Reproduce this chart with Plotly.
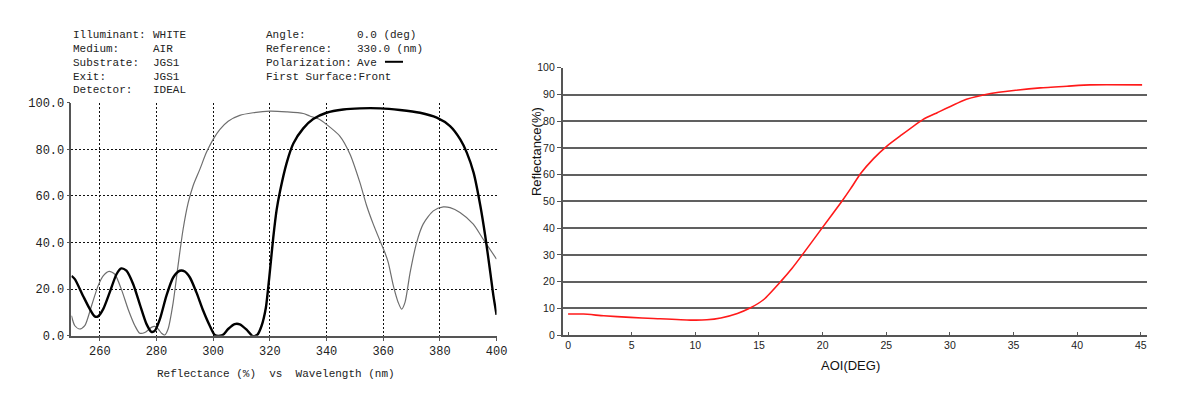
import plotly.graph_objects as go

W, H = 1182, 398
# empirical correction between figure pixels and the photographed page
SX, OX = 0.99, 8.3
SY, OY = 0.966, 12.85

# ---------------- left chart data (Reflectance vs Wavelength) ----------------
wl_thin = [250, 251.2, 252.9, 254.7, 257.1, 259.4, 261.2, 263.3, 265.3, 267.6, 270.0, 272.4,
           274.1, 275.9, 278.2, 279.4, 280.6, 281.8, 282.9, 284.1, 285.9, 287.6, 289.4, 291.2,
           292.9, 295.3, 297.6, 300.0, 302.4, 305.3, 309.4, 314.1, 320.0, 325.9, 331.8, 334.1,
           337.6, 340.0, 344.7, 348.3, 351.8, 354.2, 356.5, 358.9, 360.6, 361.8, 363.6, 365.3,
           366.5, 367.7, 369.5, 371.8, 374.1, 377.7, 381.2, 383.6, 387.1, 391.8, 395.3, 400.0]
r_thin = [8.6, 4.3, 2.9, 4.3, 12.9, 21.4, 25.7, 27.6, 26.4, 20.0, 11.4, 4.3,
          1.1, 1.4, 3.6, 4.0, 2.9, 1.1, 0.3, 2.9, 14.3, 30.0, 45.7, 57.1,
          64.3, 71.4, 78.6, 84.3, 88.6, 92.1, 94.6, 95.7, 96.4, 96.1, 95.4, 94.3,
          92.8, 90.7, 85.7, 77.9, 65.7, 55.7, 47.9, 40.7, 35.7, 31.4, 21.4, 14.3,
          11.4, 14.3, 27.1, 40.0, 47.9, 53.6, 55.3, 55.0, 52.9, 47.9, 41.4, 32.9]

wl_thick = [250, 251.2, 254.1, 256.5, 258.2, 259.4, 261.2, 263.5, 265.9, 267.6, 269.4, 271.8,
            274.1, 276.5, 278.2, 279.4, 281.2, 283.5, 285.9, 288.2, 290.0, 291.8, 294.1, 296.5,
            298.8, 300.6, 302.4, 303.5, 305.3, 307.6, 309.4, 311.8, 313.8, 315.5, 317.1, 318.6,
            319.8, 321.2, 322.4, 323.6, 325.9, 328.3, 331.8, 335.3, 340.0, 345.9, 351.8, 358.9,
            365.9, 373.0, 378.9, 383.6, 387.2, 389.5, 391.9, 394.3, 396.0, 397.8, 398.9, 400.0]
r_thick = [25.7, 24.3, 17.1, 11.4, 8.3, 8.3, 11.4, 18.6, 26.4, 28.9, 27.9, 22.1,
           13.6, 5.0, 1.7, 2.1, 7.1, 17.1, 25.0, 27.9, 27.6, 25.0, 18.6, 10.7,
           4.3, 0.3, 0.0, 0.4, 2.9, 5.0, 4.9, 2.6, 0.0, 0.3, 4.3, 12.0,
           25.0, 42.0, 54.0, 62.0, 74.0, 82.5, 89.0, 93.0, 95.7, 97.1, 97.6, 97.6,
           96.9, 95.7, 93.6, 90.0, 84.3, 78.6, 70.0, 55.7, 42.9, 27.1, 17.1, 9.0]

left_xticks = [260, 280, 300, 320, 340, 360, 380, 400]
left_yticks = [0, 20, 40, 60, 80, 100]

header_left = [("Illuminant:", "WHITE"), ("Medium:", "AIR"), ("Substrate:", "JGS1"),
               ("Exit:", "JGS1"), ("Detector:", "IDEAL")]
header_right = [("Angle:", "0.0 (deg)"), ("Reference:", "330.0 (nm)"),
                ("Polarization:", "Ave"), ("First Surface:Front", "")]

# ---------------- right chart data (Reflectance vs AOI) ----------------
aoi = [0, 1.2, 2.8, 4.9, 6.7, 9.6, 10.9, 12.0, 13.3, 14.3, 15.4, 16.7, 17.6, 18.4,
       19.95, 21.5, 22.2, 23.0, 24.0, 25.05, 26.1, 27.9, 29.0, 31.3, 33.2, 35.0, 37.1,
       39.2, 41.0, 45.1]
refl = [7.85, 7.85, 7.2, 6.6, 6.2, 5.6, 5.7, 6.4, 8.1, 10.1, 13.4, 20.0, 25.0, 30.0,
        40.0, 50.0, 54.8, 60.5, 66.0, 70.7, 74.5, 80.7, 83.2, 88.2, 90.4, 91.5, 92.5,
        93.1, 93.6, 93.6]

right_xticks = [0, 5, 10, 15, 20, 25, 30, 35, 40, 45]

MONO = "Liberation Mono"
SANS = "Liberation Sans, Arial"


def px(xp):
    return ((xp - OX) / SX) / W


def py(yp):
    return 1 - ((yp - OY) / SY) / H


fig = go.Figure()
fig.add_trace(go.Scatter(x=wl_thin, y=r_thin, mode="lines", xaxis="x", yaxis="y",
                         line=dict(color="#6e6e6e", width=1.2, shape="spline", smoothing=0.7),
                         hoverinfo="skip"))
fig.add_trace(go.Scatter(x=wl_thick, y=r_thick, mode="lines", xaxis="x", yaxis="y",
                         line=dict(color="#000000", width=2.4, shape="spline", smoothing=0.7),
                         hoverinfo="skip"))
fig.add_trace(go.Scatter(x=aoi, y=refl, mode="lines", xaxis="x2", yaxis="y2",
                         line=dict(color="#ff1a1a", width=1.6, shape="spline", smoothing=0.5),
                         hoverinfo="skip"))

annotations = []
rows_y = [34, 47.7, 61.7, 75.7, 89.3]
for i, (a, b) in enumerate(header_left):
    annotations.append(dict(x=px(72.7), y=py(rows_y[i]), text=a))
    annotations.append(dict(x=px(151.7), y=py(rows_y[i]), text=b))
for i, (a, b) in enumerate(header_right):
    annotations.append(dict(x=px(265), y=py(rows_y[i]), text=a))
    if b:
        annotations.append(dict(x=px(356.0), y=py(rows_y[i]), text=b))
for a in annotations:
    a.update(xref="paper", yref="paper", xanchor="left", yanchor="middle", showarrow=False,
             font=dict(family=MONO, size=11, color="#222222"), borderpad=0)

annotations.append(dict(x=px(276.5), y=py(373), xref="paper", yref="paper", showarrow=False,
                        text="Reflectance (%)\u00a0\u00a0vs\u00a0\u00a0Wavelength (nm)",
                        font=dict(family=MONO, size=11, color="#222222"),
                        xanchor="center", yanchor="middle"))
annotations.append(dict(x=px(850), y=py(365), xref="paper", yref="paper", showarrow=False,
                        text="AOI(DEG)", font=dict(family=SANS, size=13, color="#111111"),
                        xanchor="center", yanchor="middle"))
annotations.append(dict(x=px(537), y=py(151), xref="paper", yref="paper", showarrow=False,
                        text="Reflectance(%)", textangle=-90,
                        font=dict(family=SANS, size=13, color="#111111"),
                        xanchor="center", yanchor="middle"))

shapes = [dict(type="line", xref="paper", yref="paper", x0=px(385), x1=px(403),
               y0=py(60.7), y1=py(60.7), line=dict(color="#000000", width=2))]

fig.update_layout(
    width=W, height=H, margin=dict(l=0, r=0, t=0, b=0),
    paper_bgcolor="white", plot_bgcolor="white", showlegend=False,
    annotations=annotations, shapes=shapes,
    xaxis=dict(domain=[px(71.7), px(496.5)], range=[250, 400], tickvals=left_xticks,
               showgrid=True, gridcolor="#111111", griddash="2px,2px", gridwidth=1,
               showline=True, linecolor="#555555", linewidth=1.5,
               ticks="outside", ticklen=3, tickcolor="#555555",
               tickfont=dict(family=MONO, size=12, color="#222222"),
               zeroline=False, anchor="y", fixedrange=True),
    yaxis=dict(domain=[py(335), py(101.7)], range=[0, 100], tickvals=left_yticks,
               tickformat=".1f",
               showgrid=True, gridcolor="#111111", griddash="2px,2px", gridwidth=1,
               showline=True, linecolor="#555555", linewidth=1.5,
               ticks="outside", ticklen=3, tickcolor="#555555",
               tickfont=dict(family=MONO, size=12, color="#222222"),
               zeroline=False, anchor="x", fixedrange=True),
    xaxis2=dict(domain=[px(562.5), px(1146.7)], range=[-0.432, 45.5], tickvals=right_xticks,
                showgrid=False, showline=True, linecolor="#555555", linewidth=1.5,
                ticks="inside", ticklen=3, tickcolor="#555555",
                tickfont=dict(family=SANS, size=10.5, color="#222222"),
                zeroline=False, anchor="y2", fixedrange=True),
    yaxis2=dict(domain=[py(334.3), py(66.7)], range=[0, 100], dtick=10, tick0=0,
                showgrid=True, gridcolor="#606060", gridwidth=1.5,
                showline=True, linecolor="#555555", linewidth=1.5,
                ticks="outside", ticklen=4, tickcolor="#555555",
                tickfont=dict(family=SANS, size=10.5, color="#222222"),
                zeroline=False, anchor="x2", fixedrange=True),
)

fig.write_html("out.html")
